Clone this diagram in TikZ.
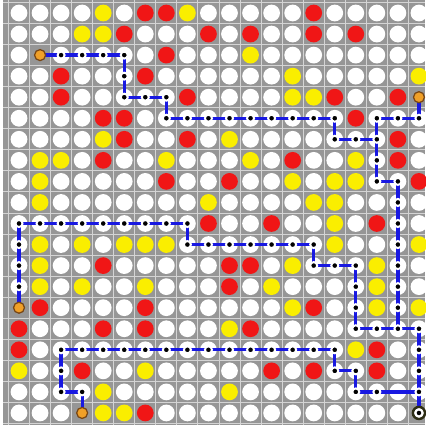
\documentclass[tikz,border=0pt]{standalone}
\usepackage{tikz}
\definecolor{boardgray}{RGB}{150,150,150}
\definecolor{gridgray}{RGB}{212,212,212}
\definecolor{cellred}{RGB}{240,22,22}
\definecolor{cellyellow}{RGB}{250,238,0}
\definecolor{routeblue}{RGB}{25,25,225}
\definecolor{startorange}{RGB}{240,160,40}
\definecolor{startedge}{RGB}{120,70,20}
\definecolor{goaledge}{RGB}{45,45,20}
\tikzset{
  gridline/.style={draw=gridgray, line width=0.2mm},
  cellW/.style={circle, fill=white, minimum size=3.35mm, inner sep=0pt},
  cellY/.style={cellW, fill=cellyellow},
  cellR/.style={cellW, fill=cellred},
  cellP/.style={cellW},
  cellO/.style={inner sep=0pt, minimum size=0pt},
  cellE/.style={cellO},
  route/.style={draw=routeblue, line width=0.65mm},
  pathdot/.style={circle, fill=black, draw=white, line width=0.4mm, minimum size=1.4mm, inner sep=0pt},
  startdot/.style={circle, fill=startorange, draw=startedge, line width=0.25mm, minimum size=2.2mm, inner sep=0pt},
  goalring/.style={circle, fill=white, draw=goaledge, line width=0.5mm, minimum size=2.4mm, inner sep=0pt}
}
\begin{document}
\begin{tikzpicture}[x=0.2mm, y=-0.2mm]
  \useasboundingbox (0,0) rectangle (425,428);
  \fill[boardgray] (3,0) rectangle (425,425);
  \foreach \k in {0,...,20} {
    \draw[gridline] ({8.5+21.05*\k},0) -- ({8.5+21.05*\k},425);
    \draw[gridline] (3,{2.5+21.05*\k}) -- (425,{2.5+21.05*\k});
  }
  % board, one row per line
  \foreach \line [count=\r from 0] in {
      {W,W,W,W,Y,W,R,R,Y,W,W,W,W,W,R,W,W,W,W,W},
      {W,W,W,Y,Y,R,W,W,W,R,W,R,W,W,R,W,R,W,W,W},
      {W,O,P,P,P,P,W,R,W,W,W,Y,W,W,W,W,W,W,W,W},
      {W,W,R,W,W,P,R,W,W,W,W,W,W,Y,W,W,W,W,W,Y},
      {W,W,R,W,W,P,P,P,R,W,W,W,W,Y,Y,R,W,W,R,O},
      {W,W,W,W,R,R,W,P,P,P,P,P,P,P,P,P,R,P,P,P},
      {W,W,W,W,Y,R,W,W,R,W,Y,W,W,W,W,P,P,P,R,W},
      {W,Y,Y,W,R,W,W,Y,W,W,W,Y,W,R,W,W,Y,P,R,W},
      {W,Y,W,W,W,W,W,R,W,W,R,W,W,Y,W,Y,Y,P,P,R},
      {W,Y,W,W,W,W,W,W,W,Y,W,W,W,W,Y,Y,W,W,P,W},
      {P,P,P,P,P,P,P,P,P,R,W,W,R,W,W,Y,W,R,P,W},
      {P,Y,W,Y,W,Y,Y,Y,P,P,P,P,P,P,P,Y,W,W,P,Y},
      {P,Y,W,W,R,W,W,W,W,W,R,R,W,Y,P,P,P,Y,P,W},
      {P,Y,W,Y,W,W,Y,W,W,W,R,W,Y,W,W,W,P,Y,P,W},
      {O,R,W,W,W,W,R,W,W,W,W,W,W,Y,R,W,P,Y,P,Y},
      {R,W,W,W,R,W,R,W,W,W,Y,R,W,W,W,W,P,P,P,P},
      {R,W,P,P,P,P,P,P,P,P,P,P,P,P,P,P,Y,R,W,P},
      {Y,W,P,R,W,W,Y,W,W,W,W,W,R,W,R,P,P,R,W,P},
      {W,W,P,P,Y,W,W,W,W,W,Y,W,W,W,W,W,P,P,P,P},
      {W,W,W,O,Y,Y,R,W,W,W,W,W,W,W,W,W,W,W,W,E}} {
    \foreach \k [count=\c from 0] in \line
      \node[cell\k] (n-\r-\c) at ({19+21.05*\c},{13+21.05*\r}) {};
  }
  \draw[route] (n-2-1.center) -- (n-2-5.center) -- (n-4-5.center) -- (n-4-7.center)
    -- (n-5-7.center) -- (n-5-15.center) -- (n-6-15.center) -- (n-6-17.center);
  \draw[route] (n-4-19.center) -- (n-5-19.center) -- (n-5-17.center) -- (n-8-17.center)
    -- (n-8-18.center) -- (n-15-18.center);
  \draw[route] (n-14-0.center) -- (n-10-0.center) -- (n-10-8.center) -- (n-11-8.center)
    -- (n-11-14.center) -- (n-12-14.center) -- (n-12-16.center) -- (n-15-16.center)
    -- (n-15-19.center) -- (n-19-19.center);
  \draw[route] (n-19-3.center) -- (n-18-3.center) -- (n-18-2.center) -- (n-16-2.center)
    -- (n-16-15.center) -- (n-17-15.center) -- (n-17-16.center) -- (n-18-16.center)
    -- (n-18-19.center);
  % marks on top of the routes
  \foreach \r/\c in {2/2,2/3,2/4,2/5,3/5,4/5,4/6,4/7,5/7,5/8,5/9,5/10,5/11,5/12,5/13,5/14,5/15,
      6/15,6/16,6/17,5/17,5/18,5/19,7/17,8/17,8/18,9/18,10/18,11/18,12/18,13/18,14/18,15/18,
      10/0,11/0,12/0,13/0,10/1,10/2,10/3,10/4,10/5,10/6,10/7,10/8,11/8,11/9,11/10,11/11,11/12,
      11/13,11/14,12/14,12/15,12/16,13/16,14/16,15/16,15/17,15/19,16/19,17/19,18/19,
      18/3,18/2,17/2,16/2,16/3,16/4,16/5,16/6,16/7,16/8,16/9,16/10,16/11,16/12,16/13,16/14,
      16/15,17/15,17/16,18/16,18/17}
    \node[pathdot] (d-\r-\c) at (n-\r-\c) {};
  \node[startdot] (s-2-1) at (n-2-1) {};
  \node[startdot] (s-4-19) at (n-4-19) {};
  \node[startdot] (s-14-0) at (n-14-0) {};
  \node[startdot] (s-19-3) at (n-19-3) {};
  \node[goalring] (g) at (n-19-19) {};
  \node[pathdot] (d-19-19) at (g) {};
\end{tikzpicture}
\end{document}
